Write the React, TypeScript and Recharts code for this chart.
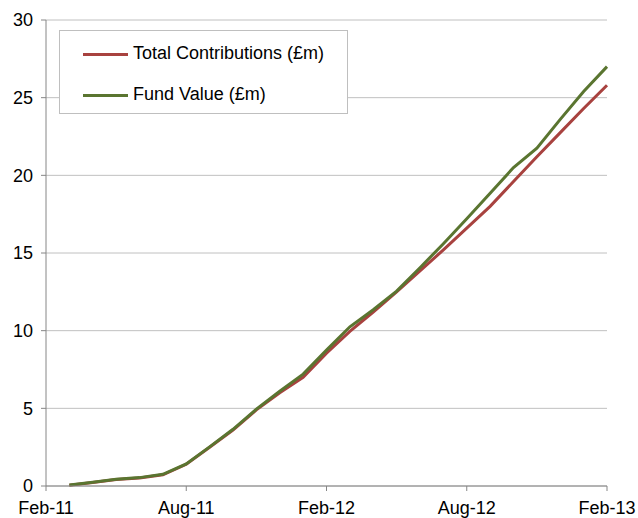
import { LineChart, Line, XAxis, YAxis, CartesianGrid, Legend } from "recharts";

const months = [
  "Mar-11", "Apr-11", "May-11", "Jun-11", "Jul-11", "Aug-11",
  "Sep-11", "Oct-11", "Nov-11", "Dec-11", "Jan-12", "Feb-12",
  "Mar-12", "Apr-12", "May-12", "Jun-12", "Jul-12", "Aug-12",
  "Sep-12", "Oct-12", "Nov-12", "Dec-12", "Jan-13", "Feb-13",
];

const contributions = [
  0.05, 0.22, 0.42, 0.52, 0.72, 1.4, 2.5, 3.6, 4.9, 6.0, 7.0, 8.55,
  9.95, 11.2, 12.5, 13.85, 15.2, 16.6, 18.0, 19.6, 21.2, 22.75, 24.3, 25.8,
];

const fundValue = [
  0.07, 0.24, 0.44, 0.54, 0.75, 1.42, 2.52, 3.65, 4.95, 6.1, 7.2, 8.75,
  10.25, 11.35, 12.55, 14.05, 15.6, 17.2, 18.85, 20.5, 21.75, 23.6, 25.4, 27.0,
];

const xTicks = [0, 6, 12, 18, 24];
const xTickLabels = ["Feb-11", "Aug-11", "Feb-12", "Aug-12", "Feb-13"];
const yTicks = [0, 5, 10, 15, 20, 25, 30];
const legendOrder = ["contributions", "fund"];

const data = months.map((m, i) => ({
  x: i + 1,
  month: m,
  contributions: contributions[i],
  fund: fundValue[i],
}));

const FONT = "'Liberation Sans', Arial, sans-serif";
const AXIS = "#868686";

function LegendBox(props: any) {
  const items = [...(props.payload || [])].sort(
    (a: any, b: any) => legendOrder.indexOf(a.dataKey) - legendOrder.indexOf(b.dataKey)
  );
  return (
    <div
      style={{
        position: "relative",
        width: 289,
        height: 84,
        boxSizing: "border-box",
        border: "1px solid #bfbfbf",
        background: "#fff",
        fontFamily: FONT,
        fontSize: 18,
        color: "#000",
      }}
    >
      {items.map((it: any, i: number) => (
        <div key={i} style={{ position: "absolute", left: 0, top: 23 + i * 41, width: "100%" }}>
          <div
            style={{
              position: "absolute",
              left: 23,
              top: -1.5,
              width: 45,
              height: 3,
              background: it.color,
            }}
          />
          <span
            style={{
              position: "absolute",
              left: 73,
              top: -11,
              lineHeight: "21px",
              whiteSpace: "nowrap",
            }}
          >
            {it.value}
          </span>
        </div>
      ))}
    </div>
  );
}

export default function App() {
  return (
    <div style={{ position: "absolute", left: 0, top: 0, background: "#fff" }}>
      <LineChart
        width={638}
        height={518}
        data={data}
        margin={{ top: 20, right: 31, left: 0, bottom: 0 }}
      >
        <CartesianGrid vertical={false} stroke="#c0c0c0" />
        <XAxis
          type="number"
          dataKey="x"
          domain={[0, 24]}
          ticks={xTicks}
          tickFormatter={(v) => xTickLabels[xTicks.indexOf(v)]}
          height={32}
          tickSize={5}
          tickMargin={10}
          stroke={AXIS}
          tick={{ fill: "#000", fontSize: 18, fontFamily: FONT }}
        />
        <YAxis
          domain={[0, 30]}
          ticks={yTicks}
          width={46}
          tickSize={5}
          tickMargin={8}
          stroke={AXIS}
          tick={{ fill: "#000", fontSize: 18, fontFamily: FONT }}
        />
        <Legend
          layout="vertical"
          align="center"
          verticalAlign="middle"
          content={<LegendBox />}
          wrapperStyle={{ left: 59, top: 30, width: 289, height: 84 }}
        />
        <Line
          dataKey="contributions"
          name="Total Contributions (£m)"
          stroke="#a8423f"
          strokeWidth={3}
          dot={false}
          isAnimationActive={false}
        />
        <Line
          dataKey="fund"
          name="Fund Value (£m)"
          stroke="#5a7530"
          strokeWidth={3}
          dot={false}
          isAnimationActive={false}
        />
      </LineChart>
    </div>
  );
}
